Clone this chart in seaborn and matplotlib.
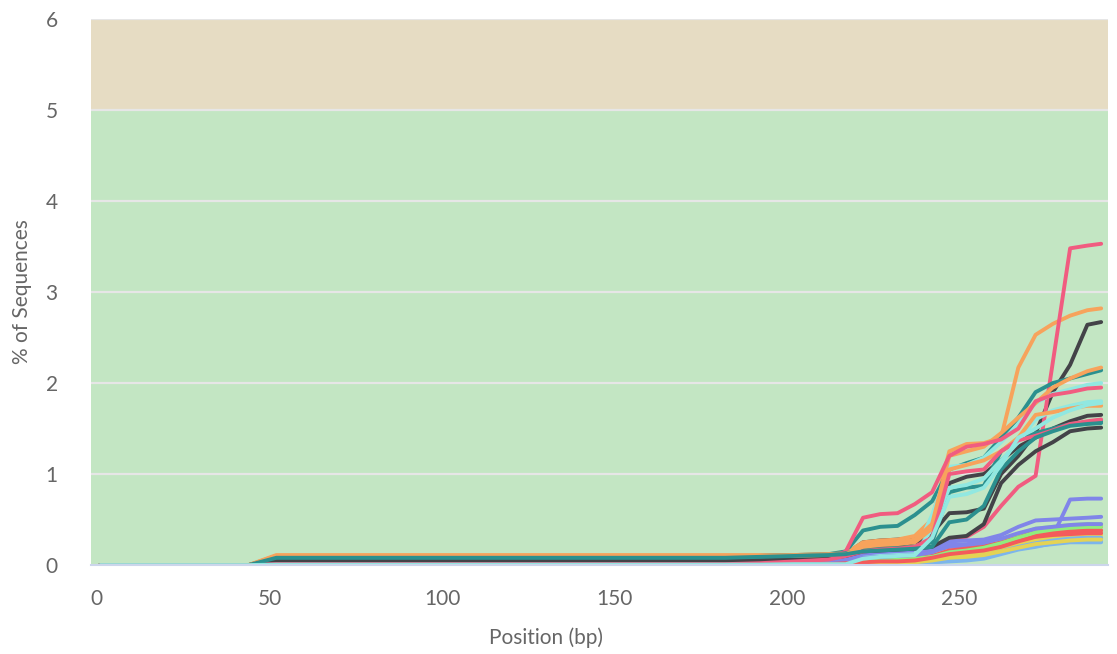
import matplotlib
matplotlib.use("Agg")
import matplotlib.pyplot as plt
from matplotlib import font_manager
import numpy as np
import pandas as pd
import seaborn as sns

# Read positions (bp) shared by every sample
positions = [1, 44, 52, 182, 192, 202, 212, 217, 222, 227, 232, 237, 242, 247,
             252, 257, 262, 267, 272, 277, 282, 287, 291]

# Cumulative adapter content (% of sequences) per sample
s01 = [0, 0, 0, 0, 0, 0, 0, 0, 0.01, 0.01, 0.01, 0.02, 0.03, 0.04, 0.05, 0.07, 0.12, 0.17, 0.20, 0.24, 0.26, 0.27, 0.27]
s02 = [0, 0, 0.05, 0.05, 0.06, 0.08, 0.10, 0.12, 0.25, 0.27, 0.28, 0.30, 0.35, 0.57, 0.58, 0.62, 1.00, 1.20, 1.45, 1.90, 2.20, 2.64, 2.67]
s03 = [0, 0, 0, 0, 0, 0.01, 0.02, 0.03, 0.05, 0.06, 0.07, 0.08, 0.10, 0.15, 0.17, 0.20, 0.25, 0.33, 0.40, 0.42, 0.44, 0.45, 0.45]
s04 = [0, 0, 0.11, 0.11, 0.11, 0.11, 0.12, 0.13, 0.25, 0.27, 0.28, 0.32, 0.50, 1.25, 1.33, 1.34, 1.40, 2.17, 2.53, 2.65, 2.74, 2.80, 2.82]
s05 = [0, 0, 0, 0, 0, 0.01, 0.03, 0.05, 0.10, 0.11, 0.12, 0.13, 0.15, 0.20, 0.21, 0.22, 0.24, 0.26, 0.28, 0.32, 0.72, 0.73, 0.73]
s06 = [0, 0, 0.01, 0.02, 0.03, 0.05, 0.07, 0.08, 0.10, 0.12, 0.13, 0.14, 0.18, 0.28, 0.31, 0.42, 0.65, 0.86, 0.98, 2.23, 3.48, 3.51, 3.53]
s07 = [0, 0, 0, 0, 0, 0, 0.01, 0.01, 0.03, 0.04, 0.04, 0.05, 0.07, 0.10, 0.12, 0.14, 0.18, 0.23, 0.27, 0.30, 0.32, 0.33, 0.33]
s08 = [0, 0, 0.09, 0.09, 0.10, 0.11, 0.12, 0.15, 0.38, 0.42, 0.43, 0.55, 0.70, 1.05, 1.12, 1.18, 1.40, 1.62, 1.90, 2.00, 2.05, 2.10, 2.14]
s09 = [0, 0, 0, 0, 0, 0.01, 0.02, 0.03, 0.05, 0.06, 0.06, 0.07, 0.10, 0.16, 0.18, 0.20, 0.25, 0.30, 0.37, 0.39, 0.41, 0.42, 0.42]
s10 = [0, 0, 0.005, 0.005, 0.005, 0.01, 0.01, 0.01, 0.10, 0.12, 0.13, 0.13, 0.55, 1.08, 1.10, 1.18, 1.35, 1.55, 1.78, 1.88, 1.93, 1.98, 2.00]
s11 = [0, 0, 0, 0, 0, 0, 0, 0, 0.01, 0.01, 0.02, 0.02, 0.03, 0.05, 0.06, 0.08, 0.13, 0.18, 0.21, 0.23, 0.25, 0.25, 0.25]
s12 = [0, 0, 0.05, 0.05, 0.06, 0.07, 0.09, 0.11, 0.20, 0.21, 0.22, 0.25, 0.30, 0.90, 0.97, 1.00, 1.15, 1.30, 1.40, 1.50, 1.58, 1.64, 1.65]
s13 = [0, 0, 0, 0, 0, 0.01, 0.01, 0.02, 0.04, 0.05, 0.05, 0.06, 0.08, 0.12, 0.14, 0.16, 0.20, 0.27, 0.32, 0.35, 0.37, 0.38, 0.38]
s14 = [0, 0, 0.10, 0.10, 0.10, 0.11, 0.12, 0.13, 0.22, 0.24, 0.25, 0.28, 0.45, 1.20, 1.25, 1.30, 1.45, 1.62, 1.78, 1.95, 2.05, 2.13, 2.17]
s15 = [0, 0, 0, 0, 0, 0.01, 0.03, 0.06, 0.12, 0.13, 0.14, 0.15, 0.18, 0.26, 0.27, 0.28, 0.33, 0.42, 0.49, 0.50, 0.51, 0.52, 0.53]
s16 = [0, 0, 0.01, 0.02, 0.03, 0.05, 0.07, 0.15, 0.52, 0.56, 0.57, 0.67, 0.80, 1.20, 1.30, 1.33, 1.38, 1.50, 1.80, 1.87, 1.90, 1.94, 1.95]
s17 = [0, 0, 0, 0, 0, 0, 0.01, 0.01, 0.02, 0.03, 0.03, 0.04, 0.06, 0.09, 0.10, 0.12, 0.16, 0.21, 0.25, 0.27, 0.29, 0.30, 0.30]
s18 = [0, 0, 0.08, 0.08, 0.09, 0.10, 0.11, 0.13, 0.17, 0.18, 0.19, 0.20, 0.25, 0.80, 0.85, 0.87, 1.25, 1.38, 1.45, 1.50, 1.55, 1.57, 1.58]
s19 = [0, 0, 0, 0, 0, 0.01, 0.02, 0.02, 0.04, 0.05, 0.05, 0.06, 0.09, 0.14, 0.16, 0.18, 0.22, 0.28, 0.34, 0.36, 0.37, 0.38, 0.38]
s20 = [0, 0, 0.005, 0.005, 0.005, 0.01, 0.01, 0.01, 0.08, 0.10, 0.11, 0.12, 0.40, 0.85, 0.88, 0.95, 1.15, 1.35, 1.60, 1.70, 1.75, 1.79, 1.80]
s21 = [0, 0, 0, 0, 0, 0, 0, 0.01, 0.02, 0.02, 0.03, 0.03, 0.05, 0.07, 0.08, 0.10, 0.15, 0.20, 0.24, 0.27, 0.29, 0.30, 0.30]
s22 = [0, 0, 0.04, 0.04, 0.05, 0.06, 0.08, 0.10, 0.15, 0.16, 0.17, 0.18, 0.20, 0.30, 0.32, 0.45, 0.90, 1.10, 1.25, 1.35, 1.47, 1.50, 1.51]
s23 = [0, 0, 0, 0, 0, 0.01, 0.02, 0.03, 0.05, 0.06, 0.06, 0.07, 0.09, 0.14, 0.16, 0.19, 0.24, 0.30, 0.36, 0.39, 0.41, 0.42, 0.42]
s24 = [0, 0, 0.10, 0.10, 0.10, 0.10, 0.11, 0.12, 0.20, 0.22, 0.23, 0.25, 0.40, 1.05, 1.10, 1.15, 1.25, 1.40, 1.65, 1.68, 1.72, 1.75, 1.75]
s25 = [0, 0, 0, 0, 0, 0.01, 0.02, 0.04, 0.08, 0.09, 0.10, 0.11, 0.14, 0.22, 0.23, 0.25, 0.29, 0.35, 0.40, 0.42, 0.44, 0.45, 0.45]
s26 = [0, 0, 0.01, 0.01, 0.02, 0.04, 0.06, 0.10, 0.15, 0.17, 0.18, 0.20, 0.30, 1.00, 1.03, 1.05, 1.25, 1.37, 1.42, 1.48, 1.55, 1.58, 1.60]
s27 = [0, 0, 0, 0, 0, 0, 0, 0.01, 0.02, 0.02, 0.03, 0.03, 0.05, 0.08, 0.09, 0.11, 0.15, 0.19, 0.23, 0.25, 0.27, 0.28, 0.28]
s28 = [0, 0, 0.08, 0.08, 0.09, 0.10, 0.11, 0.12, 0.15, 0.16, 0.17, 0.18, 0.20, 0.47, 0.50, 0.65, 1.05, 1.25, 1.40, 1.47, 1.53, 1.55, 1.56]
s29 = [0, 0, 0, 0, 0, 0, 0.01, 0.02, 0.03, 0.04, 0.04, 0.05, 0.08, 0.12, 0.14, 0.16, 0.20, 0.26, 0.31, 0.33, 0.34, 0.35, 0.35]
s30 = [0, 0, 0.005, 0.005, 0.005, 0.01, 0.01, 0.01, 0.07, 0.09, 0.10, 0.11, 0.30, 0.75, 0.78, 0.85, 1.10, 1.40, 1.50, 1.62, 1.70, 1.76, 1.78]

samples = [s01, s02, s03, s04, s05, s06, s07, s08, s09, s10,
           s11, s12, s13, s14, s15, s16, s17, s18, s19, s20,
           s21, s22, s23, s24, s25, s26, s27, s28, s29, s30]
sample_names = [f"sample_{i + 1:02d}" for i in range(len(samples))]

palette_cycle = ["#7cb5ec", "#434348", "#90ed7d", "#f7a35c", "#8085e9",
                 "#f15c80", "#e4d354", "#2b908f", "#f45b5b", "#91e8e1"]

x_ticks = [0, 50, 100, 150, 200, 250]
y_ticks = [0, 1, 2, 3, 4, 5, 6]

rows = []
for name, vals in zip(sample_names, samples):
    for p, v in zip(positions, vals):
        rows.append({"Position": p, "Percent": v, "Sample": name})
df = pd.DataFrame(rows)

sns.set_theme(style="white")
installed = {f.name for f in font_manager.fontManager.ttflist}
families = [f for f in ["DejaVu Sans Condensed", "Liberation Sans Narrow", "Lato"]
            if f in installed] + ["DejaVu Sans"]
plt.rcParams["font.family"] = families
use_narrow = families[0] in ("DejaVu Sans Condensed", "Liberation Sans Narrow")
fs = 16 if use_narrow else 15

fig = plt.figure(figsize=(11.17, 6.54), dpi=100)
ax = fig.add_axes([0.0815, 0.136, 0.9105, 0.835])

# Pass / warn bands
ax.axhspan(0, 5, color="#c3e6c3", zorder=0, lw=0)
ax.axhspan(5, 6, color="#e6dcc3", zorder=0, lw=0)
for yv in y_ticks[1:]:
    ax.axhline(yv, color="#e6e6e6", lw=1.6, zorder=1)

colors = [palette_cycle[i % len(palette_cycle)] for i in range(len(samples))]
sns.lineplot(data=df, x="Position", y="Percent", hue="Sample",
             palette=colors, estimator=None, sort=False, linewidth=2.8,
             legend=False, ax=ax, zorder=3)
for ln in ax.get_lines():
    ln.set_solid_joinstyle("round")
    ln.set_solid_capstyle("round")

ax.set_xlim(-1.7, 293)
ax.set_ylim(0, 6)
ax.set_xticks(x_ticks)
ax.set_yticks(y_ticks)
ax.set_xticklabels([str(t) for t in x_ticks])
ax.set_yticklabels([str(t) for t in y_ticks])

for side in ["top", "right", "left"]:
    ax.spines[side].set_visible(False)
ax.spines["bottom"].set_color("#ccd6eb")
ax.spines["bottom"].set_linewidth(1.5)
ax.spines["bottom"].set_zorder(4)

ax.tick_params(axis="x", length=12, width=1.3, color="#ccd6eb",
               labelsize=fs, labelcolor="#666666", pad=5, direction="out")
ax.tick_params(axis="y", length=0, labelsize=fs, labelcolor="#666666", pad=24)

ax.set_xlabel("Position (bp)", fontsize=fs, color="#666666")
ax.set_ylabel("% of Sequences", fontsize=fs, color="#666666")
ax.xaxis.set_label_coords(0.447, -0.115)
ax.yaxis.set_label_coords(-0.058, 0.5)

fig.savefig("out.png", dpi=100)
